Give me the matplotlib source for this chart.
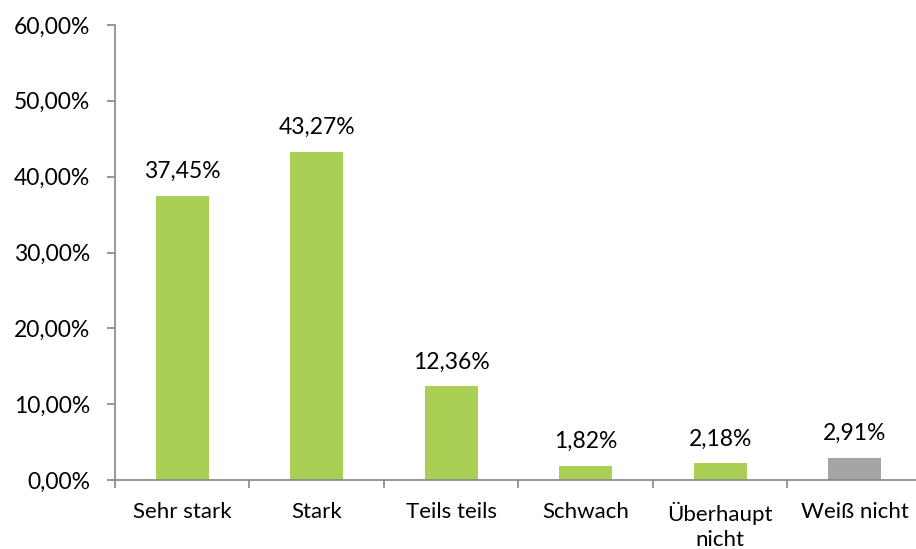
import numpy as np
import matplotlib.pyplot as plt

plt.rcParams['font.family'] = ['Lato', 'DejaVu Sans']

categories = ['Sehr stark', 'Stark', 'Teils teils', 'Schwach', 'Überhaupt\nnicht', 'Weiß nicht']
values = [37.45, 43.27, 12.36, 1.82, 2.18, 2.91]
colors = ['#A9D054'] * 5 + ['#A5A5A5']

fig = plt.figure(figsize=(9.16, 5.49), dpi=100)
# plot area runs slightly past the right edge, like the original
ax = fig.add_axes([115 / 916, 1 - 480 / 549, 807 / 916, 455 / 549])

x = np.arange(len(categories))
bars = ax.bar(x, values, width=0.395, color=colors)

for xi, v in zip(x, values):
    ax.annotate(f'{v:.2f}%'.replace('.', ','), (xi, v), xytext=(0, 10),
                textcoords='offset points', ha='center', va='bottom', fontsize=16.5)

ax.set_xlim(-0.5, len(categories) - 0.5)
ax.set_ylim(0, 60)
ax.set_yticks(np.arange(0, 61, 10))
ax.set_yticklabels([f'{t:.2f}%'.replace('.', ',') for t in np.arange(0, 61, 10)])

ax.set_xticks(x)
ax.set_xticklabels(categories, linespacing=1.3)
ax.set_xticks(np.arange(-0.5, len(categories)), minor=True)
ax.tick_params(axis='x', which='major', length=0, pad=16, labelsize=16)
ax.tick_params(axis='x', which='minor', length=6, color='#868686', width=1.2)
ax.tick_params(axis='y', length=6, color='#868686', width=1.2, pad=12, labelsize=16.5)

for s in ['top', 'right']:
    ax.spines[s].set_visible(False)
for s in ['left', 'bottom']:
    ax.spines[s].set_color('#868686')
    ax.spines[s].set_linewidth(1.2)

fig.savefig('out.png', dpi=100)
